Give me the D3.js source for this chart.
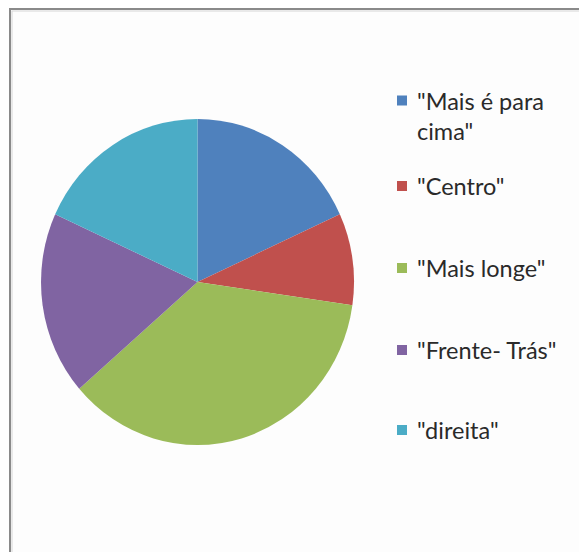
<!DOCTYPE html>
<html>
<head>
<meta charset="utf-8">
<script src="https://cdn.jsdelivr.net/npm/d3@7"></script>
<style>
  body { margin: 0; background: #fff; }
  svg { display: block; }
</style>
</head>
<body>
<script>
// pie data (2,1,4,2,2 of 11)
var labels = ['"Mais é para cima"', '"Centro"', '"Mais longe"', '"Frente- Trás"', '"direita"'];
var legendLines = [['"Mais é para', 'cima"'], ['"Centro"'], ['"Mais longe"'], ['"Frente- Trás"'], ['"direita"']];
var values = [2, 1, 4, 2, 2];
var colors = ['#4F81BD', '#C0504D', '#9BBB59', '#8064A2', '#4BACC6'];

var width = 579, height = 552;

var svg = d3.select("body").append("svg")
    .attr("width", width)
    .attr("height", height);

// chart area frame
svg.append("rect")
    .attr("x", 10).attr("y", 9)
    .attr("width", width + 20).attr("height", height + 20)
    .attr("fill", "#fdfdfd")
    .attr("stroke", "#8a8a8a")
    .attr("stroke-width", 2);
svg.append("rect")
    .attr("x", 12).attr("y", 11)
    .attr("width", width + 20).attr("height", height + 20)
    .attr("fill", "none")
    .attr("stroke", "#d6d6d6")
    .attr("stroke-width", 1);

var color = d3.scaleOrdinal().domain(labels).range(colors);

var pie = d3.pie().sort(null).value(function(d) { return d.value; });
var ry = 163;
var arc = d3.arc().innerRadius(0).outerRadius(ry);

var data = labels.map(function(l, i) { return { label: l, value: values[i] }; });

// the picture is slightly squeezed horizontally
var g = svg.append("g")
    .attr("transform", "translate(197.5,282) scale(0.96,1)");

g.selectAll("path")
    .data(pie(data))
    .enter()
    .append("path")
    .attr("d", arc)
    .attr("fill", function(d) { return color(d.data.label); });

// legend
var legendY = [100.5, 186, 268, 350, 430];
var legend = svg.selectAll(".legend")
    .data(data)
    .enter()
    .append("g")
    .attr("class", "legend")
    .attr("transform", function(d, i) { return "translate(397," + legendY[i] + ")"; });

legend.append("rect")
    .attr("x", 0).attr("y", -5)
    .attr("width", 10).attr("height", 10)
    .attr("fill", function(d) { return color(d.label); });

legend.each(function(d, i) {
  var t = d3.select(this).append("text")
      .attr("font-family", "Lato, 'Open Sans', sans-serif")
      .attr("font-size", 23.5)
      .attr("fill", "#2a2a2a");
  legendLines[i].forEach(function(line, j) {
    t.append("tspan")
      .attr("x", 20)
      .attr("y", 9 + j * 30)
      .text(line);
  });
});
</script>
</body>
</html>
